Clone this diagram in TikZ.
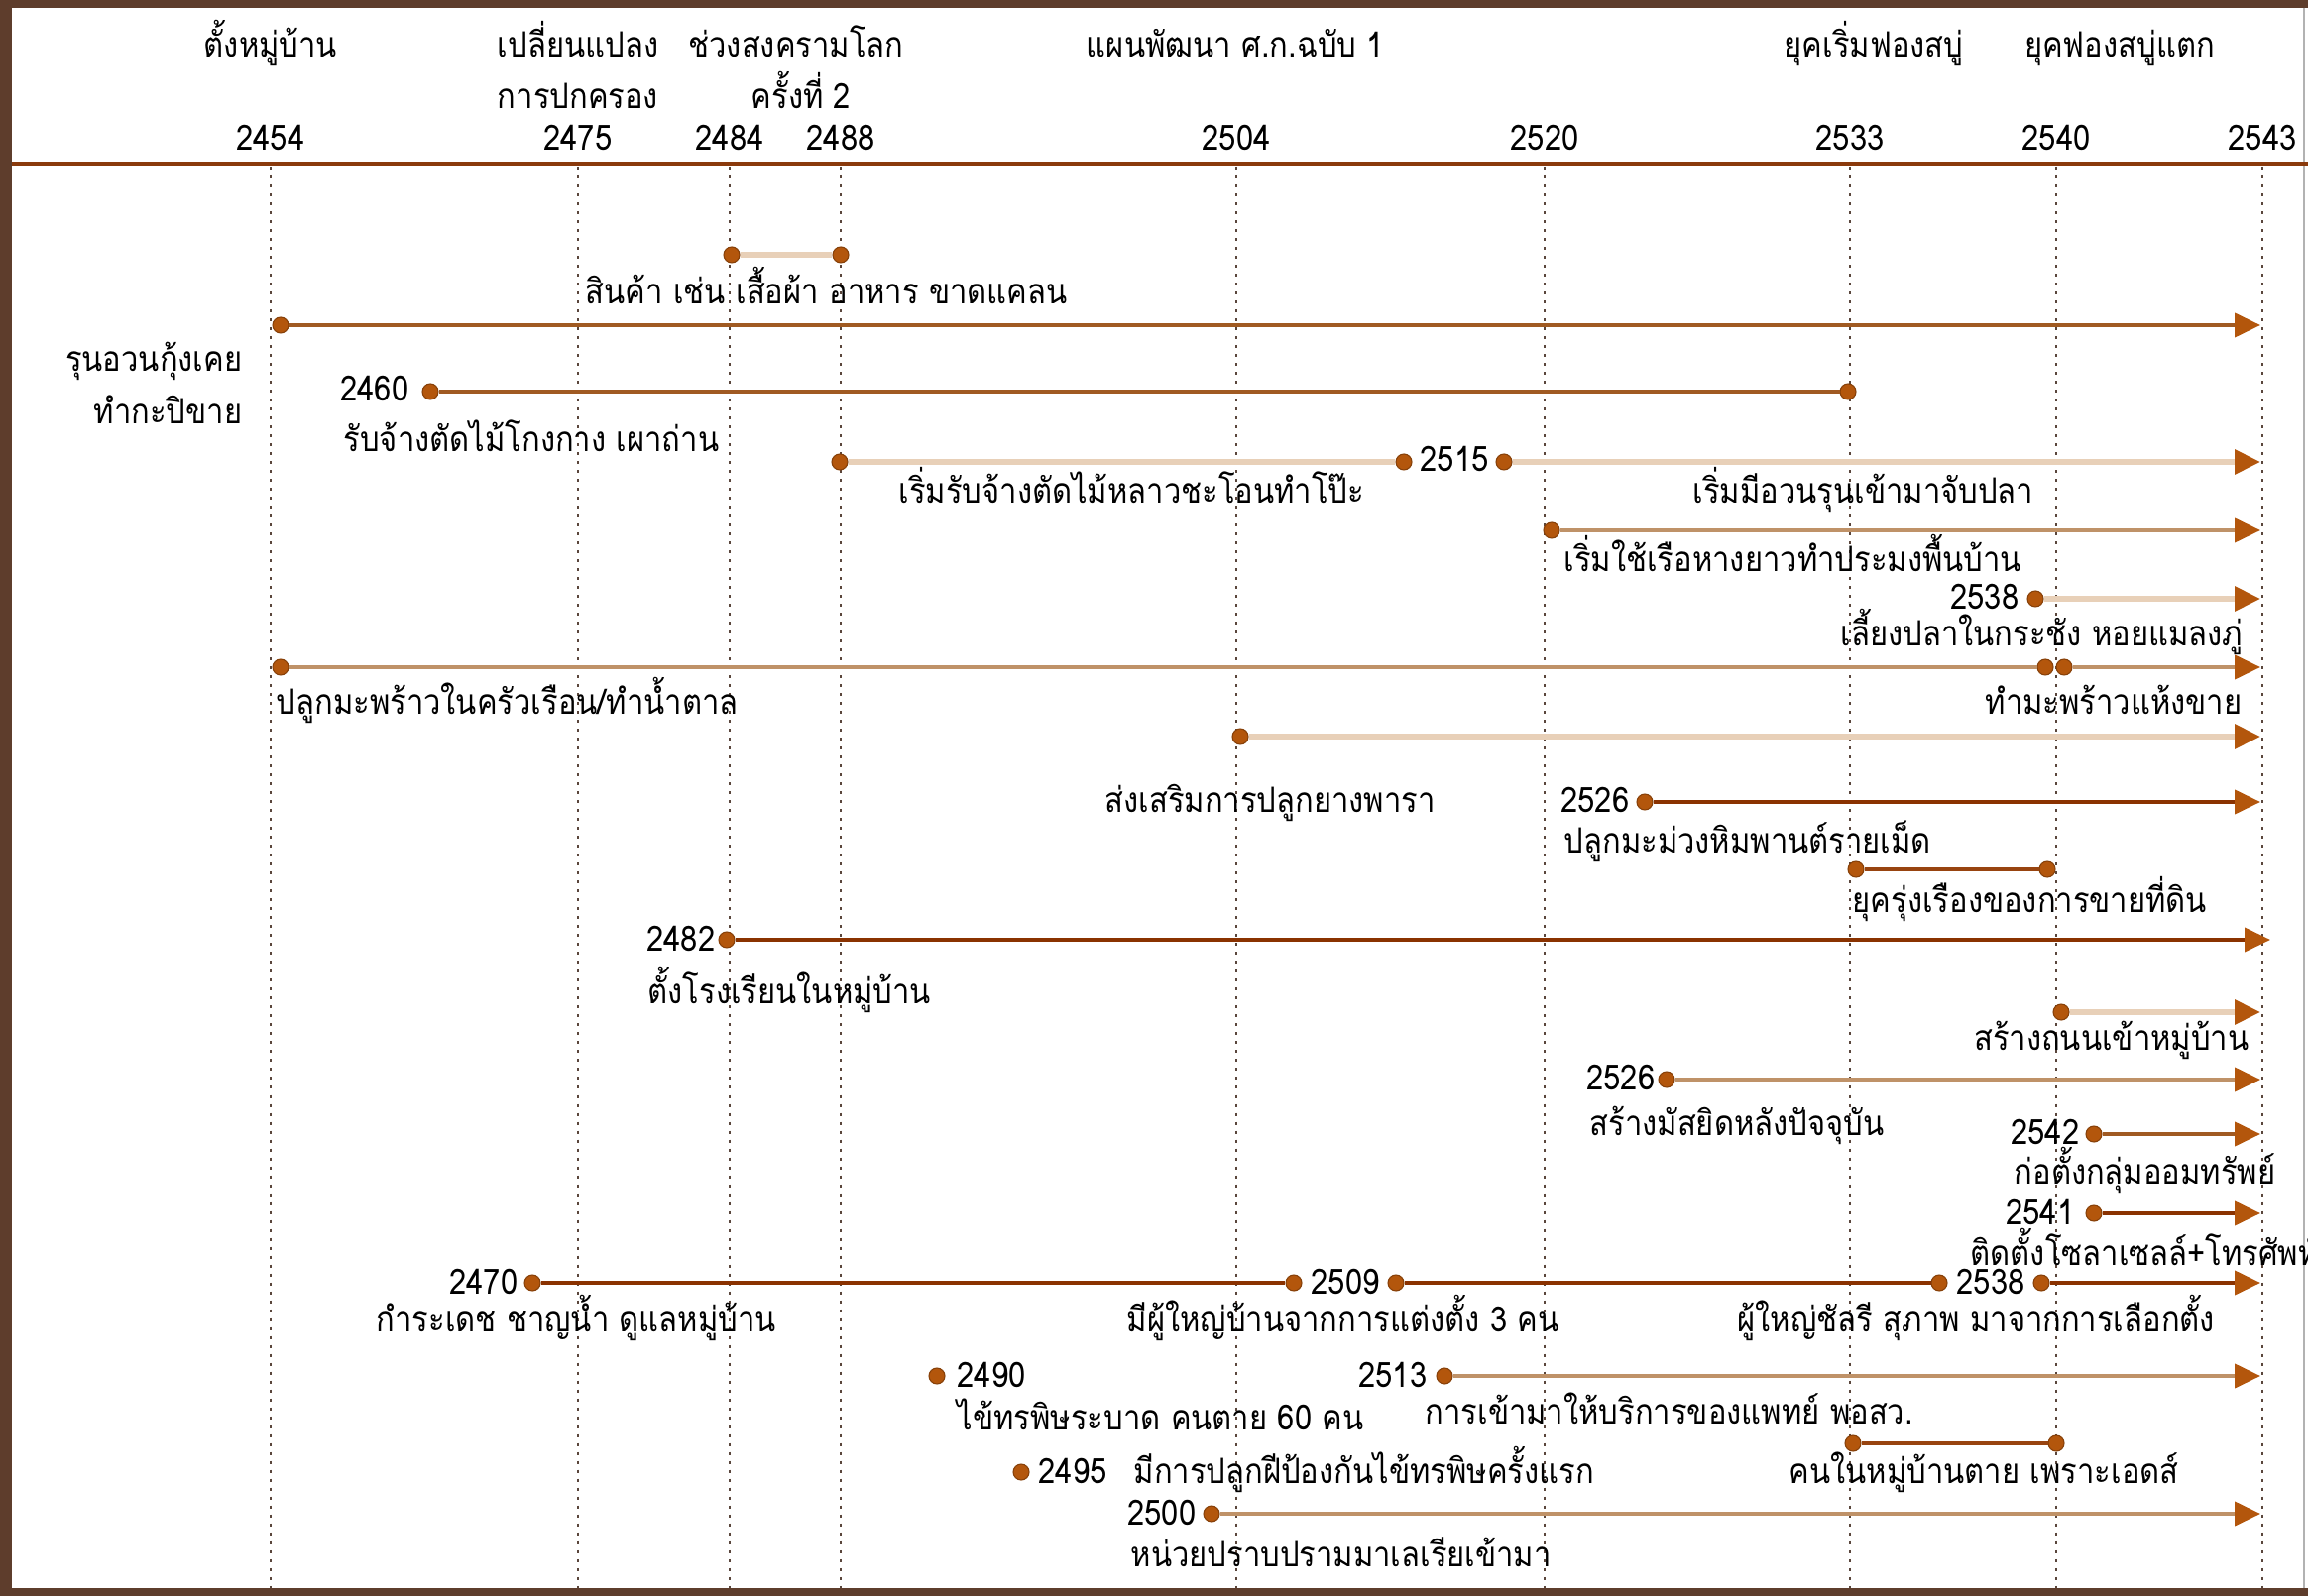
\documentclass[tikz,border=0pt]{standalone}
\usepackage{fontspec}
\newfontfamily\thai[Script=Thai,FakeStretch=0.88]{Loma}
\usetikzlibrary{arrows.meta}
\definecolor{framec}{HTML}{5E3D2C}
\definecolor{hdrc}{HTML}{8A3A0C}
\definecolor{gridc}{HTML}{5A463C}
\definecolor{dkc}{HTML}{8A3200}
\definecolor{mdc}{HTML}{A05A22}
\definecolor{mdkc}{HTML}{984410}
\definecolor{tanc}{HTML}{BF9268}
\definecolor{palec}{HTML}{E8D0B8}
\definecolor{dotc}{HTML}{B3560C}
\begin{document}
\begin{tikzpicture}[x=0.01cm,y=-0.01cm,
  font=\thai\fontsize{10}{12}\selectfont,
  lbl/.style={inner sep=0pt, anchor=base west},
  lblr/.style={inner sep=0pt, anchor=base east},
  hd/.style={inner sep=0pt, anchor=base},
  evdot/.style={circle, fill=dotc, draw=dotc!75!black, line width=0.3pt, minimum size=0.16cm, inner sep=0pt},
  tip/.style={-{Triangle[length=0.26cm,width=0.24cm,color=dotc]}},
  dkl/.style={draw=dkc, line width=1.15pt},
  mdl/.style={draw=mdc, line width=1.15pt},
  mdkl/.style={draw=mdkc, line width=1.15pt},
  tanl/.style={draw=tanc, line width=1.15pt},
  palel/.style={draw=palec, line width=1.7pt},
  gridl/.style={draw=gridc, line width=0.55pt, dash pattern=on 0.03cm off 0.06cm}]
\useasboundingbox (0,0) rectangle (2328,1610);
% frame
\fill[framec] (0,0) rectangle (2328,1610);
\fill[white] (12,8) rectangle (2328,1602);
\draw[gray!60, line width=0.5pt] (2324,8) -- (2324,1602);
% header
\draw[hdrc, line width=1.15pt] (12,165) -- (2328,165);
\node[hd] (h1) at (273,58) {ตั้งหมู่บ้าน};
\node[hd] (h2) at (583,58) {เปลี่ยนแปลง};
\node[hd] (h2b) at (583,110) {การปกครอง};
\node[hd] (h3) at (803,58) {ช่วงสงครามโลก};
\node[hd] (h3b) at (808,110) {ครั้งที่ 2};
\node[hd] (h4) at (1246,58) {แผนพัฒนา ศ.ก.ฉบับ 1};
\node[hd] (h5) at (1890,58) {ยุคเริ่มฟองสบู่};
\node[hd] (h6) at (2138,58) {ยุคฟองสบู่แตก};
\foreach \xx/\yr in {273/2454,583/2475,736/2484,848/2488,1247/2504,1558/2520,1866/2533,2074/2540,2282/2543}{
  \node[hd] (y\yr) at (\xx,152) {\yr};
  \draw[gridl] (\xx,168) -- (\xx,1602);
}
% row 1
\node[evdot] (a1) at (738,257) {};
\node[evdot] (a2) at (848,257) {};
\draw[palel] (a1) -- (a2);
\node[lbl] (ta) at (590,307) {สินค้า เช่น เสื้อผ้า อาหาร ขาดแคลน};
% row 2
\node[evdot] (b1) at (283,328) {};
\coordinate (b2) at (2280,328);
\draw[mdl,tip] (b1) -- (b2);
\node[lblr] (tb1) at (245,375) {รุนอวนกุ้งเคย};
\node[lblr] (tb2) at (245,428) {ทำกะปิขาย};
% row 3
\node[evdot] (c1) at (434,395) {};
\node[evdot] (c2) at (1864,395) {};
\draw[mdl] (c1) -- (c2);
\node[lblr] (tc0) at (413,405) {2460};
\node[lbl] (tc) at (346,456) {รับจ้างตัดไม้โกงกาง เผาถ่าน};
% row 4
\node[evdot] (d1) at (847,466) {};
\node[evdot] (d2) at (1416,466) {};
\node[evdot] (d3) at (1517,466) {};
\coordinate (d4) at (2280,466);
\draw[palel] (d1) -- (d2);
\draw[palel,tip] (d3) -- (d4);
\node[hd] (td0) at (1467,476) {2515};
\node[lbl] (td1) at (906,508) {เริ่มรับจ้างตัดไม้หลาวชะโอนทำโป๊ะ};
\node[lbl] (td2) at (1707,508) {เริ่มมีอวนรุนเข้ามาจับปลา};
% row 5
\node[evdot] (e1) at (1565,535) {};
\coordinate (e2) at (2280,535);
\draw[tanl,tip] (e1) -- (e2);
\node[lbl] (te) at (1577,577) {เริ่มใช้เรือหางยาวทำประมงพื้นบ้าน};
% row 6
\node[evdot] (f1) at (2053,604) {};
\coordinate (f2) at (2280,604);
\draw[palel,tip] (f1) -- (f2);
\node[lblr] (tf0) at (2037,615) {2538};
\node[lbl] (tf) at (1856,652) {เลี้ยงปลาในกระชัง หอยแมลงภู่};
% row 7
\node[evdot] (g1) at (283,673) {};
\node[evdot] (g2) at (2063,673) {};
\node[evdot] (g3) at (2082,673) {};
\coordinate (g4) at (2280,673);
\draw[tanl] (g1) -- (g2);
\draw[tanl,tip] (g3) -- (g4);
\node[lbl] (tg1) at (278,721) {ปลูกมะพร้าวในครัวเรือน/ทำน้ำตาล};
\node[lblr] (tg2) at (2262,721) {ทำมะพร้าวแห้งขาย};
% row 8
\node[evdot] (h1d) at (1251,743) {};
\coordinate (h2d) at (2280,743);
\draw[palel,tip] (h1d) -- (h2d);
\node[lbl] (th) at (1114,820) {ส่งเสริมการปลูกยางพารา};
% row 9
\node[evdot] (i1) at (1659,809) {};
\coordinate (i2) at (2280,809);
\draw[dkl,tip] (i1) -- (i2);
\node[lblr] (ti0) at (1644,820) {2526};
\node[lbl] (ti) at (1577,860) {ปลูกมะม่วงหิมพานต์รายเม็ด};
% row 10
\node[evdot] (j1) at (1872,877) {};
\node[evdot] (j2) at (2065,877) {};
\draw[mdkl] (j1) -- (j2);
\node[lbl] (tj) at (1868,920) {ยุครุ่งเรืองของการขายที่ดิน};
% row 11
\node[evdot] (k1) at (733,948) {};
\coordinate (k2) at (2290,948);
\draw[dkl,tip] (k1) -- (k2);
\node[lblr] (tk0) at (722,959) {2482};
\node[lbl] (tk) at (653,1012) {ตั้งโรงเรียนในหมู่บ้าน};
% row 12
\node[evdot] (l1) at (2079,1021) {};
\coordinate (l2) at (2280,1021);
\draw[palel,tip] (l1) -- (l2);
\node[lblr] (tl) at (2269,1059) {สร้างถนนเข้าหมู่บ้าน};
% row 13
\node[evdot] (m1) at (1681,1089) {};
\coordinate (m2) at (2280,1089);
\draw[tanl,tip] (m1) -- (m2);
\node[lblr] (tm0) at (1670,1099) {2526};
\node[lbl] (tm) at (1603,1145) {สร้างมัสยิดหลังปัจจุบัน};
% row 14
\node[evdot] (n1) at (2112,1144) {};
\coordinate (n2) at (2280,1144);
\draw[mdl,tip] (n1) -- (n2);
\node[lblr] (tn0) at (2098,1154) {2542};
\node[lbl] (tn) at (2031,1194) {ก่อตั้งกลุ่มออมทรัพย์};
% row 15
\node[evdot] (o1) at (2112,1224) {};
\coordinate (o2) at (2280,1224);
\draw[dkl,tip] (o1) -- (o2);
\node[lblr] (to0) at (2093,1235) {2541};
\node[lbl] (to) at (1987,1276) {ติดตั้งโซลาเซลล์+โทรศัพท์};
% row 16
\node[evdot] (p1) at (537,1294) {};
\node[evdot] (p2) at (1305,1294) {};
\node[evdot] (p3) at (1408,1294) {};
\node[evdot] (p4) at (1956,1294) {};
\node[evdot] (p5) at (2059,1294) {};
\coordinate (p6) at (2280,1294);
\draw[dkl] (p1) -- (p2);
\draw[dkl] (p3) -- (p4);
\draw[dkl,tip] (p5) -- (p6);
\node[lblr] (tp0) at (523,1305) {2470};
\node[hd] (tp1) at (1357,1305) {2509};
\node[hd] (tp2) at (2008,1305) {2538};
\node[lbl] (tp3) at (379,1343) {กำระเดช ชาญน้ำ ดูแลหมู่บ้าน};
\node[lbl] (tp4) at (1136,1343) {มีผู้ใหญ่บ้านจากการแต่งตั้ง 3 คน};
\node[lbl] (tp5) at (1752,1343) {ผู้ใหญ่ชัลรี สุภาพ มาจากการเลือกตั้ง};
% row 17
\node[evdot] (q1) at (945,1388) {};
\node[lbl] (tq0) at (965,1399) {2490};
\node[lbl] (tq) at (965,1442) {ไข้ทรพิษระบาด คนตาย 60 คน};
\node[evdot] (r1) at (1457,1388) {};
\coordinate (r2) at (2280,1388);
\draw[tanl,tip] (r1) -- (r2);
\node[lblr] (tr0) at (1440,1399) {2513};
\node[lbl] (tr) at (1437,1436) {การเข้ามาให้บริการของแพทย์ พอสว.};
% row 18
\node[evdot] (s1) at (1030,1485) {};
\node[lbl] (ts0) at (1047,1496) {2495};
\node[lbl] (ts) at (1143,1496) {มีการปลูกฝีป้องกันไข้ทรพิษครั้งแรก};
\node[evdot] (u1) at (1869,1456) {};
\node[evdot] (u2) at (2074,1456) {};
\draw[mdkl] (u1) -- (u2);
\node[lbl] (tu) at (1804,1496) {คนในหมู่บ้านตาย เพราะเอดส์};
% row 19
\node[evdot] (v1) at (1222,1527) {};
\coordinate (v2) at (2280,1527);
\draw[tanl,tip] (v1) -- (v2);
\node[lblr] (tv0) at (1207,1538) {2500};
\node[lbl] (tv) at (1140,1580) {หน่วยปราบปรามมาเลเรียเข้ามา};
\end{tikzpicture}
\end{document}
